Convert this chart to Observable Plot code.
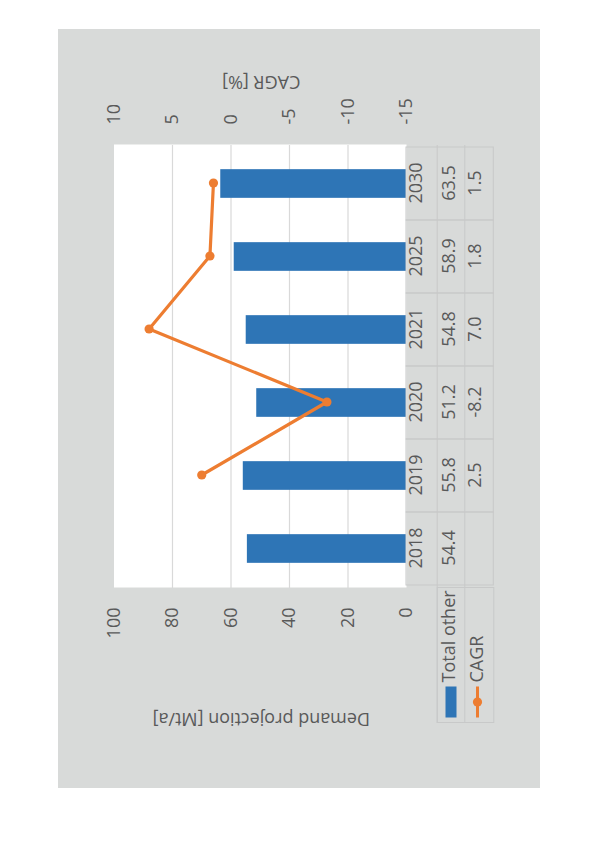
<!DOCTYPE html>
<html>
<head>
<meta charset="utf-8">
<script src="https://cdn.jsdelivr.net/npm/d3@7"></script>
<script src="https://cdn.jsdelivr.net/npm/@observablehq/plot@0.6"></script>
<style>
  body { margin: 0; background: white; }
  #chart {
    position: absolute; left: 0; top: 0;
    width: 759px; height: 482px;
    transform-origin: 0 0;
    transform: translate(58px, 788px) rotate(-90deg);
  }
  #chart svg { max-width: none !important; display: block; }
</style>
</head>
<body>
<div id="chart"></div>
<script>
const years = ["2018", "2019", "2020", "2021", "2025", "2030"]
const demand = [54.4, 55.8, 51.2, 54.8, 58.9, 63.5]
const cagr = [null, 2.5, -8.2, 7.0, 1.8, 1.5]
const leftTicks = [0, 20, 40, 60, 80, 100]

const blue = "#2e75b6"
const orange = "#ed7d31"
const lineCol = "#c8c9c9"
const textCol = "#595959"

// secondary axis (CAGR -15..10) mapped onto the demand scale (0..100)
const cagrToY = c => (c + 15) * 4
const yToCagr = y => String(y / 4 - 15)

const data = years.map((year, i) => ({year, demand: demand[i], cagr: cagr[i]}))
const lineData = data.filter(d => d.cagr != null)

const W = 759, H = 482
const mL = 200, mR = 116, mT = 55.5, mB = 134
const bw = (W - mL - mR) / years.length
const frameH = H - mT - mB

let chart = Plot.plot({
  width: W,
  height: H,
  marginLeft: mL,
  marginRight: mR,
  marginTop: mT,
  marginBottom: mB,
  x: {type: "band", domain: years, padding: 0, axis: null},
  y: {domain: [0, 100], axis: null},
  style: {
    fontFamily: "'Open Sans', sans-serif",
    fontSize: "18px",
    background: "#d8dad9",
    color: textCol,
    maxWidth: "none",
    overflow: "visible",
  },
  marks: [
    Plot.frame({fill: "white", stroke: null}),
    Plot.gridY([20, 40, 60, 80], {stroke: "#d9d9d9", strokeOpacity: 1, strokeWidth: 1.2}),
    Plot.barY(data, {x: "year", y: "demand", fill: blue, insetLeft: (bw - 29.5) / 2, insetRight: (bw - 29.5) / 2}),
    Plot.line(lineData, {x: "year", y: d => cagrToY(d.cagr), stroke: orange, strokeWidth: 3.2}),
    Plot.dot(lineData, {x: "year", y: d => cagrToY(d.cagr), fill: orange, r: 4.6}),
    Plot.axisY({ticks: leftTicks, tickSize: 0, tickPadding: 20, label: null}),
    Plot.axisY({anchor: "right", ticks: leftTicks, tickFormat: yToCagr, tickSize: 0, tickPadding: 20, label: null}),
    Plot.text(["Demand projection [Mt/a]"], {frameAnchor: "left", dx: -131.5, dy: 1, rotate: -90, textAnchor: "middle", lineAnchor: "middle", fill: textCol}),
    Plot.text(["CAGR [%]"], {frameAnchor: "right", dx: 62.5, dy: 1, rotate: -90, textAnchor: "middle", lineAnchor: "middle", fill: textCol}),
    // data table
    Plot.cell(data, {x: "year", fill: null, stroke: lineCol, insetLeft: 0, insetRight: 0, insetTop: frameH, insetBottom: -87.3}),
    Plot.ruleY([0], {dy: 30.7, insetLeft: -135, stroke: lineCol}),
    Plot.ruleY([0], {dy: 58.3, insetLeft: -135, stroke: lineCol}),
    Plot.frame({fill: null, stroke: lineCol, insetLeft: -135, insetRight: W - mL - mR, insetTop: frameH + 30.7, insetBottom: -87.3}),
    Plot.text(data, {x: "year", text: "year", frameAnchor: "bottom", lineAnchor: "middle", dy: 10, fill: textCol}),
    Plot.text(data, {x: "year", text: d => d.demand.toFixed(1), frameAnchor: "bottom", lineAnchor: "middle", dy: 42.5, fill: textCol}),
    Plot.text(data, {x: "year", text: d => d.cagr == null ? "" : d.cagr.toFixed(1), frameAnchor: "bottom", lineAnchor: "middle", dy: 69, fill: textCol}),
    // legend
    Plot.frame({fill: blue, stroke: null, insetLeft: -130, insetRight: W - mL - mR + 99, insetTop: frameH + 39, insetBottom: -50}),
    Plot.text(["Total other"], {frameAnchor: "bottom-left", dx: -95, dy: 43, textAnchor: "start", lineAnchor: "middle", fill: textCol}),
    Plot.frame({fill: orange, stroke: null, insetLeft: -130, insetRight: W - mL - mR + 99, insetTop: frameH + 69.5, insetBottom: -72.5}),
    Plot.dot([0], {frameAnchor: "bottom-left", dx: -114.5, dy: 71, r: 4.6, fill: orange}),
    Plot.text(["CAGR"], {frameAnchor: "bottom-left", dx: -95, dy: 71, textAnchor: "start", lineAnchor: "middle", fill: textCol}),
  ]
})

d3.select("#chart").append(() => chart)
</script>
</body>
</html>
